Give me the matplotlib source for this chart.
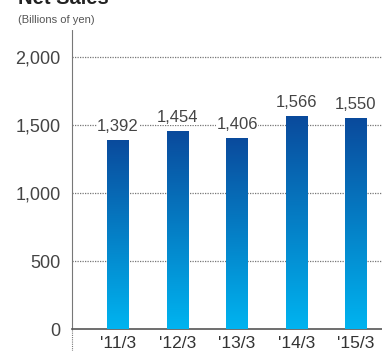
import numpy as np
import matplotlib
matplotlib.use("Agg")
import matplotlib.pyplot as plt
from matplotlib.colors import LinearSegmentedColormap
from matplotlib.lines import Line2D

categories = ["'11/3", "'12/3", "'13/3", "'14/3", "'15/3"]
values = [1392, 1454, 1406, 1566, 1550]
labels = ["1,392", "1,454", "1,406", "1,566", "1,550"]
yticks = [0, 500, 1000, 1500, 2000]
ytick_labels = ["0", "500", "1,000", "1,500", "2,000"]

plt.rcParams['font.family'] = ['Liberation Sans', 'DejaVu Sans']

W, H = 382, 351
fig = plt.figure(figsize=(W / 100, H / 100), dpi=100)

left_px, right_px = 71.5, 382
top_px, bottom_px = 30, 329
ax = fig.add_axes([left_px / W, 1 - bottom_px / H, (right_px - left_px) / W, (bottom_px - top_px) / H])

ymax = (bottom_px - top_px) / (272 / 2000)
ax.set_ylim(0, ymax)
xs = np.arange(len(categories))
px_per_unit = 59.5
ax.set_xlim((left_px - 118) / px_per_unit, (right_px - 118) / px_per_unit)

cmap = LinearSegmentedColormap.from_list("g", ["#00b4f0", "#0a4a9c"])
grad = np.linspace(0, 1, 256).reshape(-1, 1)
bw = 22 / px_per_unit
bars = ax.bar(xs, values, width=bw, color='none', zorder=3)
for b, v in zip(bars, values):
    x0 = b.get_x()
    im = ax.imshow(grad, cmap=cmap, origin='lower', aspect='auto',
                   extent=[x0, x0 + bw, 0, v], zorder=3)
    im.set_clip_path(b)

for t in yticks[1:]:
    ax.axhline(t, color='#777777', lw=0.9, ls=(0, (1, 1)), zorder=1)

for x, v, lab in zip(xs, values, labels):
    ax.text(x, v + 45, lab, ha='center', va='bottom', fontsize=12, color='#444444',
            zorder=4, bbox=dict(facecolor='white', edgecolor='none', pad=0.3))

ax.set_yticks(yticks)
ax.set_yticklabels(ytick_labels, fontsize=13, color='#444444')
ax.set_xticks(xs)
ax.set_xticklabels(categories, fontsize=12.5, color='#333333')
ax.tick_params(axis='y', length=0, pad=8)
ax.tick_params(axis='x', length=0, pad=5)

for s in ['top', 'right']:
    ax.spines[s].set_visible(False)
ax.spines['bottom'].set_color('#555555')
ax.spines['bottom'].set_linewidth(1.2)
ax.spines['left'].set_color('#777777')
ax.spines['left'].set_linewidth(0.8)
ax.spines['left'].set_linestyle((0, (1, 1)))

# continue the dotted axis below the zero line
fig.add_artist(Line2D([left_px / W, left_px / W], [0, 1 - bottom_px / H],
                      color='#777777', lw=0.8, ls=(0, (1, 1))))

fig.text(18 / W, 1 - 4 / H, "Net Sales", fontsize=14.5, fontweight='bold',
         color='#222222', ha='left', va='baseline')
fig.text(18 / W, 1 - 23 / H, "(Billions of yen)", fontsize=8, color='#555555',
         ha='left', va='baseline')

fig.savefig("out.png", dpi=100)
